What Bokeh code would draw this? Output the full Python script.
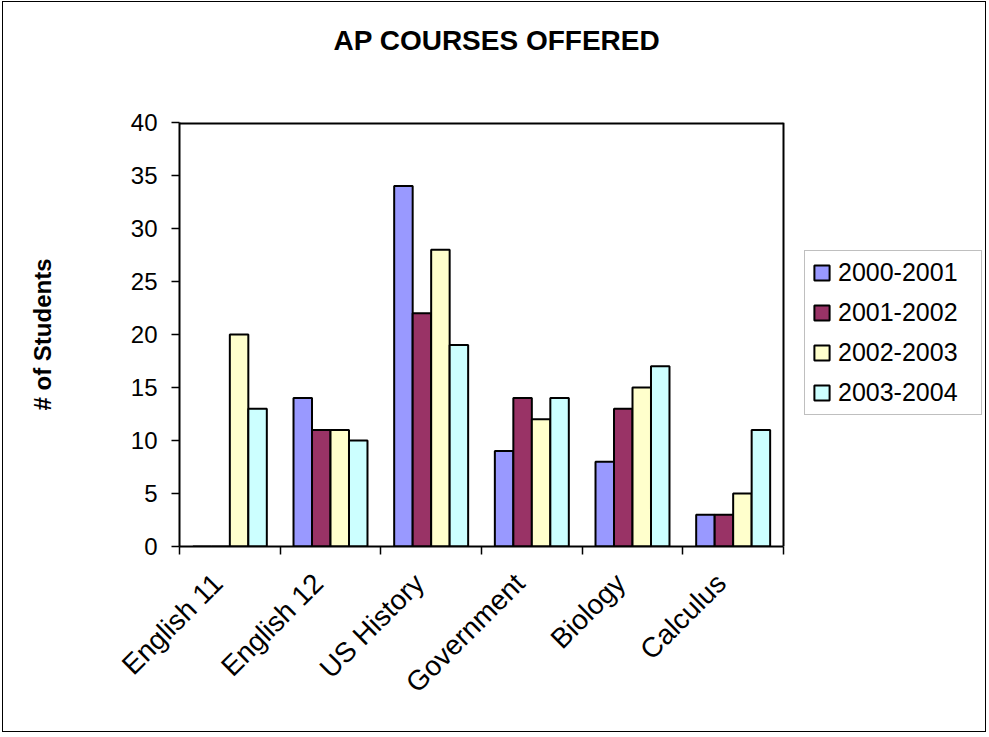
import math
from bokeh.plotting import figure
from bokeh.models import Range1d, FixedTicker, Legend, LegendItem, Title
from bokeh.embed import file_html
from bokeh.resources import INLINE

courses = ["English 11", "English 12", "US History", "Government", "Biology", "Calculus"]
years = ["2000-2001", "2001-2002", "2002-2003", "2003-2004"]
v2000_2001 = [0, 14, 34, 9, 8, 3]
v2001_2002 = [0, 11, 22, 14, 13, 3]
v2002_2003 = [20, 11, 28, 12, 15, 5]
v2003_2004 = [13, 10, 19, 14, 17, 11]
series = [v2000_2001, v2001_2002, v2002_2003, v2003_2004]
y_ticks = [0, 5, 10, 15, 20, 25, 30, 35, 40]
colors = ["#9999FF", "#993366", "#FFFFCC", "#CCFFFF"]

FONT = "Liberation Sans"
BAR_W = 0.1837
Y_MAX = y_ticks[-1]
N_CAT = len(courses)

# layout (pixels)
PLOT_PX = 604            # width of the category area
FRAME_PX = 804           # frame extends to the right to hold the legend
X_END = N_CAT * FRAME_PX / PLOT_PX

p = figure(width=984, height=731, output_backend="svg", toolbar_location=None,
           x_range=Range1d(0, X_END), y_range=Range1d(0, Y_MAX),
           min_border_left=176, min_border_right=4, min_border_top=120, min_border_bottom=187)
p.styles = {"border": "1px solid black", "margin-left": "2px", "margin-top": "1px"}
p.xgrid.visible = False
p.ygrid.visible = False
p.outline_line_color = None

renderers = []
n = len(series)
for j, vals in enumerate(series):
    xs = [i + 0.5 + (j - (n - 1) / 2) * BAR_W for i in range(N_CAT)]
    r = p.vbar(x=xs, top=vals, width=BAR_W, bottom=0,
               fill_color=colors[j], line_color="black", line_width=2)
    renderers.append(r)

# plot-area box: top and right edges
p.segment(x0=[0, N_CAT], y0=[Y_MAX, 0], x1=[N_CAT, N_CAT], y1=[Y_MAX, Y_MAX],
          line_color="black", line_width=[4, 2])

# x axis
xa = p.xaxis[0]
xa.bounds = (0, N_CAT)
xa.ticker = FixedTicker(ticks=[i + 0.38 for i in range(N_CAT)],
                        minor_ticks=list(range(N_CAT + 1)))
xa.major_label_overrides = {i + 0.38: c for i, c in enumerate(courses)}
xa.major_label_orientation = math.pi / 4
xa.major_tick_out = 0
xa.major_tick_in = 0
xa.minor_tick_out = 8
xa.minor_tick_in = 0
xa.minor_tick_line_color = "black"
xa.minor_tick_line_width = 1.5
xa.axis_line_color = "black"
xa.axis_line_width = 2
xa.major_label_text_font = FONT
xa.major_label_text_font_size = "28px"
xa.major_label_text_color = "black"
xa.major_label_standoff = 24

# y axis
ya = p.yaxis[0]
ya.ticker = FixedTicker(ticks=y_ticks)
ya.major_tick_out = 8
ya.major_tick_in = 0
ya.minor_tick_out = 0
ya.minor_tick_in = 0
ya.major_tick_line_color = "black"
ya.major_tick_line_width = 1.5
ya.axis_line_color = "black"
ya.axis_line_width = 2
ya.major_label_text_font = FONT
ya.major_label_text_font_size = "24px"
ya.major_label_text_color = "black"
ya.major_label_standoff = 14
ya.axis_label = "# of Students"
ya.axis_label_text_font = FONT
ya.axis_label_text_font_size = "24px"
ya.axis_label_text_font_style = "bold"
ya.axis_label_text_color = "black"
ya.axis_label_standoff = 72

# title, lifted above the plot area by an empty spacer panel
spacer = Title(text=" ", text_font_size="1px", standoff=64)
p.add_layout(spacer, "above")
t = Title(text="AP COURSES OFFERED", align="left", text_font=FONT,
          text_font_size="28px", text_font_style="bold", text_color="black",
          offset=154, standoff=0)
p.add_layout(t, "above")

# legend
legend = Legend(items=[LegendItem(label=y, renderers=[r]) for y, r in zip(years, renderers)],
                location=(625, 131), orientation="vertical",
                glyph_width=19, glyph_height=19, label_height=26, spacing=11,
                padding=7, margin=0, label_standoff=7, label_width=136,
                label_text_font=FONT, label_text_font_size="25px", label_text_color="black",
                border_line_color="#808080", border_line_width=1.5,
                background_fill_color="white", background_fill_alpha=1)
p.add_layout(legend, "center")

open("out.html", "w").write(file_html(p, INLINE))
